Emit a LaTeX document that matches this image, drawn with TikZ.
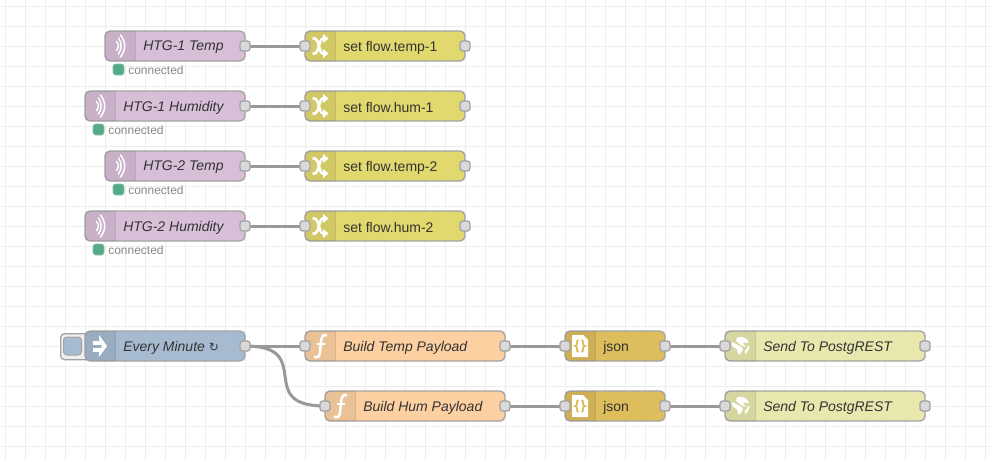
\documentclass[tikz,border=0pt]{standalone}
\usepackage{fontspec}
\setmainfont{Liberation Sans}
\newfontfamily\symfont{DejaVu Sans}
\pgfdeclarelayer{gridlayer}
\pgfdeclarelayer{wirelayer}
\pgfsetlayers{gridlayer,wirelayer,main}
\definecolor{gridc}{HTML}{EEEEEE}
\definecolor{edgec}{HTML}{A3A3A3}
\definecolor{wirec}{HTML}{999999}
\definecolor{portc}{HTML}{D9D9D9}
\definecolor{txtc}{HTML}{333333}
\definecolor{statc}{HTML}{888888}
\definecolor{okc}{HTML}{55AA88}
\definecolor{mqttc}{HTML}{D8BFD8}
\definecolor{changec}{HTML}{E2D96E}
\definecolor{funcc}{HTML}{FDD0A2}
\definecolor{jsonc}{HTML}{DEBD5C}
\definecolor{httpc}{HTML}{E7E7AE}
\definecolor{injc}{HTML}{A6BBCF}
\tikzset{
  x=0.75pt,y=-0.75pt,
  flowbox/.style={draw=edgec,line width=1pt,rounded corners=3.75pt,anchor=north west,minimum height=22.5pt,inner sep=0pt,outer sep=0pt},
  flowlabel/.style={anchor=west,inner sep=0pt,text=txtc,font=\fontsize{10.5pt}{12pt}\selectfont},
  italabel/.style={flowlabel,font=\fontsize{10.5pt}{12pt}\selectfont\itshape},
  portbox/.style={draw=edgec,fill=portc,line width=1pt,rounded corners=2pt,minimum width=7.5pt,minimum height=7.5pt,inner sep=0pt,outer sep=0pt},
  wire/.style={draw=wirec,line width=2.25pt},
  okdot/.style={fill=okc,draw=okc!70!white,line width=.5pt,rounded corners=2pt,minimum width=8.25pt,minimum height=8.25pt,inner sep=0pt},
  stattext/.style={anchor=west,inner sep=0pt,text=statc,font=\fontsize{9pt}{11pt}\selectfont},
  iconline/.style={draw=white,line width=1.1pt,line cap=round},
}
% name, x, y(top), width, colour, label style, label, icon
\newcommand{\flownode}[8]{
  \node[flowbox,fill=#5,minimum width=#4*0.75pt] (#1) at (#2,#3) {};
  \fill[black,fill opacity=.07,rounded corners=3.75pt] (#2+30,#3) -- (#2,#3) -- (#2,#3+30) -- (#2+30,#3+30);
  \draw[black,opacity=.12,line width=.75pt] (#2+30,#3) -- (#2+30,#3+30);
  \node[#6] (#1-l) at (#2+38,#3+16.5) {#7};
  \begin{scope}[shift={(#2+15,#3+15)}] #8 \end{scope}
}
\newcommand{\inport}[3]{\node[portbox] (#1-in) at (#2,#3+15) {};}
\newcommand{\outport}[4]{\node[portbox] (#1-out) at (#2+#4,#3+15) {};}
\newcommand{\statusline}[3]{
  \node[okdot] (#1-dot) at (#2+18.5,#3+38.5) {};
  \node[stattext] (#1-st) at (#2+28,#3+39.5) {connected};
}
\newcommand{\wifiicon}{
  \draw[iconline] (-3.5,-4.5) .. controls (-1,-1.5) and (-1,1.5) .. (-3.5,4.5);
  \draw[iconline] (-1.5,-8) .. controls (2,-3) and (2,3) .. (-1.5,8);
  \draw[iconline] (0.5,-11) .. controls (6,-4) and (6,4) .. (0.5,11);
}
\newcommand{\shuffleicon}{
  \draw[white,line width=1.9pt] (-7.5,-7.5) -- (-5.5,-7.5) .. controls (-1,-7.5) and (-1,7.5) .. (3,7.5) -- (5,7.5);
  \draw[white,line width=1.9pt] (-7.5,7.5) -- (-5.5,7.5) .. controls (-1,7.5) and (-1,-7.5) .. (3,-7.5) -- (5,-7.5);
  \fill[white] (3,-12) -- (8.5,-7.5) -- (3,-3) -- cycle;
  \fill[white] (3,3) -- (8.5,7.5) -- (3,12) -- cycle;
}
\newcommand{\funcicon}{
  \draw[white,line width=1.9pt] (7,-10.5) .. controls (3,-12.5) and (1.5,-9) .. (1,-4) -- (0,6.5) .. controls (-0.4,10.5) and (-2.5,12.5) .. (-6,10.5);
  \draw[white,line width=1.5pt] (-3.5,-2.5) -- (5,-2.5);
}
\newcommand{\jsonicon}{
  \fill[white] (-8,-11) -- (3,-11) -- (8,-6) -- (8,11) -- (-8,11) -- cycle;
  \draw[jsonc,line width=1.3pt] (-1.5,-6) .. controls (-3.5,-6) and (-3,-3.5) .. (-3,-2.5) .. controls (-3,-0.5) and (-4,0) .. (-5,0) .. controls (-4,0) and (-3,0.5) .. (-3,2.5) .. controls (-3,3.5) and (-3.5,6) .. (-1.5,6);
  \draw[jsonc,line width=1.3pt] (1.5,-6) .. controls (3.5,-6) and (3,-3.5) .. (3,-2.5) .. controls (3,-0.5) and (4,0) .. (5,0) .. controls (4,0) and (3,0.5) .. (3,2.5) .. controls (3,3.5) and (3.5,6) .. (1.5,6);
}
\newcommand{\globeicon}{
  \fill[white] (-3,-8.5) .. controls (1,-10) and (7,-9) .. (9,-3) .. controls (7,-3) and (5,-4) .. (3,-3) .. controls (3,-1) and (5,0) .. (7,0) .. controls (5,2) and (3,0) .. (1,-1) .. controls (-1,-2) and (-2,-4) .. (-4,-5) .. controls (-3,-6) and (-4,-7) .. (-3,-8.5) -- cycle;
  \fill[white] (-8,-4) .. controls (-6,-3) and (-4,-2) .. (-2,-1) .. controls (0,0) and (3,1) .. (3,3) .. controls (2,5) and (1,7) .. (-1,9) .. controls (-3,8) and (-2,5) .. (-3,3) .. controls (-6,2) and (-9,0) .. (-8,-4) -- cycle;
  \fill[white] (7,2) .. controls (8,1) and (9,0) .. (9.5,-1) .. controls (9.5,3) and (8,6) .. (5,8) .. controls (4,6) and (5,4) .. (7,2) -- cycle;
}
\newcommand{\injecticon}{
  \fill[white] (-7.5,-5.5) rectangle (1,-1.5);
  \fill[white] (-7.5,1.5) rectangle (1,5.5);
  \fill[white] (-1,-11) -- (7,0) -- (-1,11) -- (-1,6.5) -- (2,0) -- (-1,-6.5) -- cycle;
  \fill[white] (0.5,-5.5) -- (5,-1.5) -- (5,1.5) -- (0.5,5.5) -- (2,0) -- cycle;
}
\begin{document}
\begin{tikzpicture}
\useasboundingbox (0,0) rectangle (992,461);
\begin{pgfonlayer}{gridlayer}
  \fill[white] (0,0) rectangle (992,461);
  \foreach \k in {0,...,49} {\draw[gridc,line width=.75pt] (5.5+20*\k,0) -- (5.5+20*\k,461);}
  \foreach \k in {0,...,22} {\draw[gridc,line width=.75pt] (0,6.5+20*\k) -- (992,6.5+20*\k);}
\end{pgfonlayer}

% MQTT row nodes
\flownode{m1}{105}{31}{140}{mqttc}{italabel}{HTG-1 Temp}{\wifiicon}
\outport{m1}{105}{31}{140}
\statusline{m1}{100}{31}
\flownode{m2}{85}{91}{160}{mqttc}{italabel}{HTG-1 Humidity}{\wifiicon}
\outport{m2}{85}{91}{160}
\statusline{m2}{80}{91}
\flownode{m3}{105}{151}{140}{mqttc}{italabel}{HTG-2 Temp}{\wifiicon}
\outport{m3}{105}{151}{140}
\statusline{m3}{100}{151}
\flownode{m4}{85}{211}{160}{mqttc}{italabel}{HTG-2 Humidity}{\wifiicon}
\outport{m4}{85}{211}{160}
\statusline{m4}{80}{211}

% change nodes
\flownode{c1}{305}{31}{160}{changec}{flowlabel}{set flow.temp-1}{\shuffleicon}
\inport{c1}{305}{31}\outport{c1}{305}{31}{160}
\flownode{c2}{305}{91}{160}{changec}{flowlabel}{set flow.hum-1}{\shuffleicon}
\inport{c2}{305}{91}\outport{c2}{305}{91}{160}
\flownode{c3}{305}{151}{160}{changec}{flowlabel}{set flow.temp-2}{\shuffleicon}
\inport{c3}{305}{151}\outport{c3}{305}{151}{160}
\flownode{c4}{305}{211}{160}{changec}{flowlabel}{set flow.hum-2}{\shuffleicon}
\inport{c4}{305}{211}\outport{c4}{305}{211}{160}

% inject
\node[draw=edgec,fill=gridc,line width=1pt,rounded corners=3pt,anchor=north west,minimum width=22.5pt,minimum height=19.5pt,inner sep=0pt] (btn) at (60,333) {};
\node[draw=edgec,fill=injc,line width=.75pt,rounded corners=2.5pt,minimum width=13.5pt,minimum height=13.5pt,inner sep=0pt] (btni) at (72.5,346) {};
\flownode{inj}{85}{331}{160}{injc}{italabel}{Every Minute {\symfont\fontsize{9pt}{11pt}\selectfont ↻}}{\injecticon}
\outport{inj}{85}{331}{160}

% functions, json, http
\flownode{f1}{305}{331}{200}{funcc}{italabel}{Build Temp Payload}{\funcicon}
\inport{f1}{305}{331}\outport{f1}{305}{331}{200}
\flownode{f2}{325}{391}{180}{funcc}{italabel}{Build Hum Payload}{\funcicon}
\inport{f2}{325}{391}\outport{f2}{325}{391}{180}
\flownode{j1}{565}{331}{100}{jsonc}{flowlabel}{json}{\jsonicon}
\inport{j1}{565}{331}\outport{j1}{565}{331}{100}
\flownode{j2}{565}{391}{100}{jsonc}{flowlabel}{json}{\jsonicon}
\inport{j2}{565}{391}\outport{j2}{565}{391}{100}
\flownode{h1}{725}{331}{200}{httpc}{italabel}{Send To PostgREST}{\globeicon}
\inport{h1}{725}{331}\outport{h1}{725}{331}{200}
\flownode{h2}{725}{391}{200}{httpc}{italabel}{Send To PostgREST}{\globeicon}
\inport{h2}{725}{391}\outport{h2}{725}{391}{200}

\begin{pgfonlayer}{wirelayer}
  \draw[wire] (m1-out.center) -- (c1-in.center);
  \draw[wire] (m2-out.center) -- (c2-in.center);
  \draw[wire] (m3-out.center) -- (c3-in.center);
  \draw[wire] (m4-out.center) -- (c4-in.center);
  \draw[wire] (inj-out.center) -- (f1-in.center);
  \draw[wire] (inj-out.center) .. controls +(72,0) and +(-72,0) .. (f2-in.center);
  \draw[wire] (f1-out.center) -- (j1-in.center);
  \draw[wire] (f2-out.center) -- (j2-in.center);
  \draw[wire] (j1-out.center) -- (h1-in.center);
  \draw[wire] (j2-out.center) -- (h2-in.center);
\end{pgfonlayer}
\end{tikzpicture}
\end{document}
